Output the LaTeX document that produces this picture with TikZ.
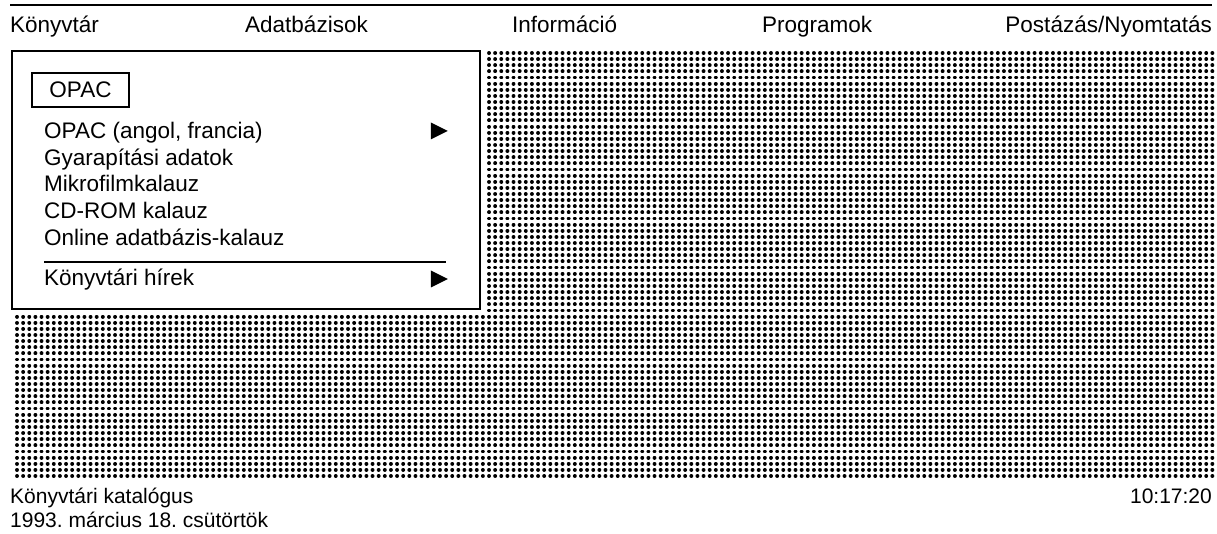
\documentclass[tikz,border=0pt]{standalone}
\usepackage{fontspec}
\setmainfont{Liberation Sans}
\usetikzlibrary{shapes.geometric}
\frenchspacing

\begin{document}
\begin{tikzpicture}[x=1pt, y=-1pt]
            \tikzset{label/.style = {anchor=base west, inner sep=0pt, font=\fontsize{22.5}{26}\selectfont}}
            \tikzset{statuslabel/.style = {anchor=base west, inner sep=0pt, font=\fontsize{21}{24}\selectfont}}
            \tikzset{menubox/.style = {draw, fill=white, line width=1.6pt, minimum width=468pt, minimum height=258pt}}
            \tikzset{titlebox/.style = {draw, line width=1.2pt, minimum width=97pt, minimum height=34pt, font=\fontsize{22.5}{26}\selectfont}}
            \tikzset{pointer/.style = {isosceles triangle, isosceles triangle stretches, fill, inner sep=0pt, minimum width=17pt, minimum height=17pt}}
            \tikzset{rule/.style = {line width=1.2pt}}
            \tikzset{dotrow/.style = {line width=3.9pt, line cap=round, dash pattern=on 0.01pt off 6.12pt}}

            \useasboundingbox (0,0) rectangle (1217,534);

            \foreach \r in {0,...,42}
                \draw[dotrow] (489,53+6.13*\r) -- (1213,53+6.13*\r);
            \foreach \r in {43,...,69}
                \draw[dotrow] (17,53+6.13*\r) -- (1213,53+6.13*\r);

            \coordinate (topl) at (10,5);
            \coordinate (topr) at (1212,5);
            \draw[rule, line width=1.6pt] (topl) -- (topr);

            \node[label] (konyvtar) at (10,33) {Könyvtár};
            \node[label] (adatb) at (245,33) {Adatbázisok};
            \node[label] (inform) at (512,33) {Információ};
            \node[label] (progr) at (762,33) {Programok};
            \node[label, anchor=base east] (posta) at (1212,33) {Postázás/Nyomtatás};

            \node[menubox] (menu) at (246,180) {};
            \node[titlebox] (opac) at (80.5,90) {OPAC};

            \node[label] (opacidegen) at (44,139) {OPAC (angol, francia)};
            \node[label] (gyarap) at (44,166) {Gyarapítási adatok};
            \node[label] (mikro) at (44,192) {Mikrofilmkalauz};
            \node[label] (cdrom) at (44,219) {CD-ROM kalauz};
            \node[label] (online) at (44,246) {Online adatbázis-kalauz};
            \node[label] (hirek) at (44,286) {Könyvtári hírek};

            \node[pointer] (opacnyil) at (436,131) {};
            \node[pointer] (hireknyil) at (436,279) {};

            \coordinate (sepl) at (44,262);
            \coordinate (sepr) at (446,262);
            \draw[rule] (sepl) to (sepr);

            \node[statuslabel] (katalogus) at (10,503) {Könyvtári katalógus};
            \node[statuslabel] (datum) at (10,527) {1993. március 18. csütörtök};
            \node[statuslabel, anchor=base east] (ido) at (1212,503) {10:17:20};
\end{tikzpicture}
\end{document}
